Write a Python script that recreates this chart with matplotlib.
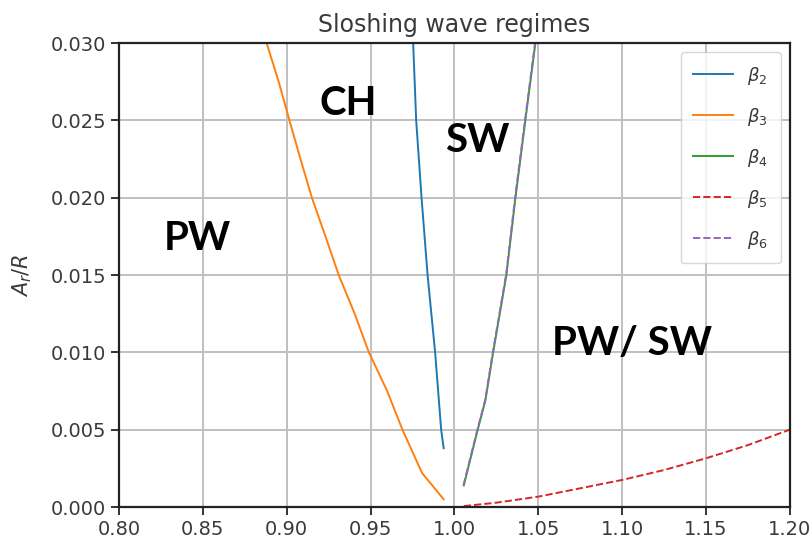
import matplotlib
matplotlib.use("Agg")
import matplotlib.pyplot as plt

# Regime boundaries: frequency ratio vs. normalised amplitude
beta2_x = [0.9754, 0.9772, 0.9804, 0.9840, 0.9885, 0.9921, 0.9936]
beta2_y = [0.030, 0.025, 0.020, 0.015, 0.010, 0.005, 0.0038]

beta3_x = [0.888, 0.8952, 0.9016, 0.9082, 0.915, 0.9231, 0.931, 0.9405,
           0.949, 0.9599, 0.969, 0.9807, 0.9936]
beta3_y = [0.030, 0.0275, 0.025, 0.0225, 0.020, 0.0175, 0.015, 0.0125,
           0.010, 0.0075, 0.005, 0.0022, 0.0005]

beta4_x = [1.0056, 1.0139, 1.0185, 1.0231, 1.031, 1.0364, 1.0423, 1.0483]
beta4_y = [0.0014, 0.005, 0.0069, 0.010, 0.015, 0.020, 0.025, 0.030]

beta5_x = [1.0056, 1.025, 1.05, 1.075, 1.10, 1.125, 1.15, 1.175, 1.20]
beta5_y = [0.00006, 0.00028, 0.00067, 0.00121, 0.00175, 0.00239, 0.00315, 0.0040, 0.0050]

beta6_x = [1.0054, 1.0137, 1.0183, 1.0229, 1.0308, 1.0362, 1.0421, 1.0481]
beta6_y = [0.0014, 0.005, 0.0069, 0.010, 0.015, 0.020, 0.025, 0.030]

xticks = [0.80, 0.85, 0.90, 0.95, 1.00, 1.05, 1.10, 1.15, 1.20]
yticks = [0.000, 0.005, 0.010, 0.015, 0.020, 0.025, 0.030]

# Regime labels (text, x, baseline y)
regime_labels = ["PW", "CH", "SW", "PW/ SW"]
regime_x = [0.8465, 0.9368, 1.0135, 1.106]
regime_y = [0.01662, 0.02535, 0.02297, 0.00983]

fig = plt.figure(figsize=(8.1, 5.45), dpi=100)
ax = fig.add_axes([0.147, 0.0697, 0.828, 0.8513])

lw = 1.4
ax.plot(beta2_x, beta2_y, color="#1f77b4", lw=lw, label=r"$\beta_2$")
ax.plot(beta3_x, beta3_y, color="#ff7f0e", lw=lw, label=r"$\beta_3$")
ax.plot(beta4_x, beta4_y, color="#2ca02c", lw=lw, label=r"$\beta_4$")
ax.plot(beta5_x, beta5_y, color="#d62728", lw=lw, ls="--", label=r"$\beta_5$")
ax.plot(beta6_x, beta6_y, color="#9467bd", lw=lw, ls="--", label=r"$\beta_6$")

ax.set_xlim(0.80, 1.20)
ax.set_ylim(0.0, 0.030)
ax.set_xticks(xticks)
ax.set_yticks(yticks)
ax.set_xticklabels([f"{v:.2f}" for v in xticks])
ax.set_yticklabels([f"{v:.3f}" for v in yticks])
ax.tick_params(labelsize=14, length=6, width=1.3, color="#222222",
               labelcolor="#3a3a3a")
for s in ax.spines.values():
    s.set_linewidth(1.6)
    s.set_color("#222222")

ax.grid(True, color="#c0c0c0", lw=1.4)
ax.set_axisbelow(True)

ax.set_title("Sloshing wave regimes", fontsize=17, color="#3a3a3a", pad=8)
ax.set_ylabel(r"$A_r/R$", fontsize=15, color="#3a3a3a", labelpad=12)

for t, x, y in zip(regime_labels, regime_x, regime_y):
    ax.text(x, y, t, ha="center", va="baseline", fontsize=29,
            fontweight="bold", family="Lato", color="black")

leg = ax.legend(loc="upper right", fontsize=13, labelspacing=1.05,
                handlelength=2.2, borderpad=0.7, framealpha=0.8,
                edgecolor="#cccccc")
for t in leg.get_texts():
    t.set_color("#3a3a3a")

fig.savefig("out.png", dpi=100, facecolor="white")
